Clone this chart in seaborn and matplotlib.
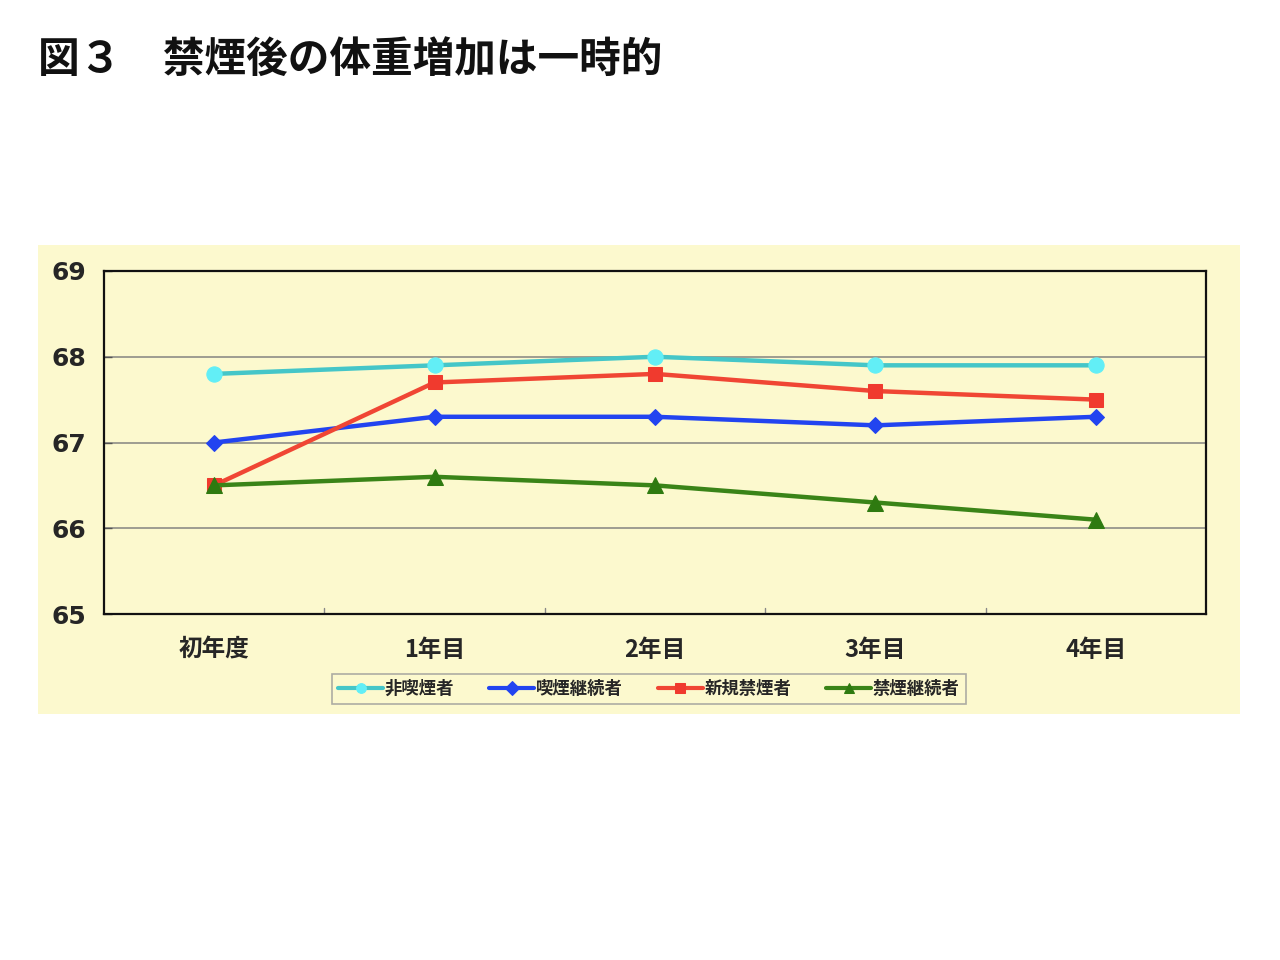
import matplotlib
matplotlib.use("Agg")
import matplotlib.pyplot as plt
from matplotlib.patches import Rectangle
import seaborn as sns
import pandas as pd

categories = ["初年度", "1年目", "2年目", "3年目", "4年目"]
non_smoker = [67.8, 67.9, 68.0, 67.9, 67.9]
cont_smoker = [67.0, 67.3, 67.3, 67.2, 67.3]
new_quitter = [66.5, 67.7, 67.8, 67.6, 67.5]
cont_quitter = [66.5, 66.6, 66.5, 66.3, 66.1]
series_names = ["非喫煙者", "喫煙継続者", "新規禁煙者", "禁煙継続者"]
y_ticks = [65, 66, 67, 68, 69]

sns.set_theme(style="white")
plt.rcParams['font.family'] = ['Noto Sans CJK JP', 'DejaVu Sans']

bg = "#FCF9CE"
fig = plt.figure(figsize=(12.8, 9.6), dpi=100)
fig.patch.set_facecolor("white")
fig.patches.append(Rectangle((38/1280, 1-714/960), 1202/1280, 469/960,
                             transform=fig.transFigure, facecolor=bg,
                             edgecolor="none", zorder=-5))

ax = fig.add_axes([104/1280, 1-614/960, 1102/1280, 343/960])
ax.set_facecolor(bg)
ax.set_zorder(2)

xs = [i + 0.5 for i in range(len(categories))]
styles = [
    (non_smoker, "#45C6C8", "o", "#62EEF6", 11),
    (cont_smoker, "#2244F0", "D", "#2244F0", 8),
    (new_quitter, "#F04634", "s", "#F03A2E", 10),
    (cont_quitter, "#3A8418", "^", "#2E7A10", 11),
]
handles = []
for (vals, col, mk, mfc, ms), name in zip(styles, series_names):
    df = pd.DataFrame({"x": xs, "y": vals})
    sns.lineplot(data=df, x="x", y="y", ax=ax, color=col, linewidth=3.2,
                 marker=mk, markersize=ms, markerfacecolor=mfc,
                 markeredgecolor=mfc, label=name, legend=False)
    handles.append(ax.lines[-1])

ax.set_xlim(0, 5)
ax.set_ylim(65, 69)
ax.set_yticks(y_ticks)
ax.set_yticklabels([str(v) for v in y_ticks], fontsize=18, fontweight="bold",
                   family=["DejaVu Sans"])
ax.set_xticks(xs)
ax.set_xticklabels(categories, fontsize=17, fontweight="bold")
ax.tick_params(axis="x", length=0, pad=17)
ax.tick_params(axis="y", direction="in", length=6, width=1, color="#555555", pad=13, left=True)
for v in [66, 67, 68]:
    ax.axhline(v, color="#8E8E86", linewidth=1.2, zorder=0.5)
for b in [1, 2, 3, 4]:
    ax.plot([b, b], [65, 65.07], color="#888888", linewidth=1, zorder=0.6)
for s in ax.spines.values():
    s.set_color("#111111")
    s.set_linewidth(1.6)
ax.set_xlabel("")
ax.set_ylabel("")

leg = fig.legend(handles, series_names, loc="center", bbox_to_anchor=(649/1280, 1-689/960),
                 ncol=4, frameon=True, fancybox=False, handlelength=2.6,
                 handletextpad=0.1, columnspacing=2.0, borderpad=0.35,
                 prop={"size": 12.5, "weight": "bold", "family": ["Noto Sans CJK JP"]})
leg.get_frame().set_facecolor(bg)
leg.get_frame().set_edgecolor("#999999")
leg.get_frame().set_linewidth(1.2)
for h in leg.legend_handles:
    h.set_markersize(7)
    h.set_linewidth(3)

fig.text(38/1280, 1-60/960, "図３　禁煙後の体重増加は一時的", fontsize=30,
         fontweight="bold", va="center", ha="left", color="#111111")

fig.savefig("out.png", dpi=100, facecolor="white")
